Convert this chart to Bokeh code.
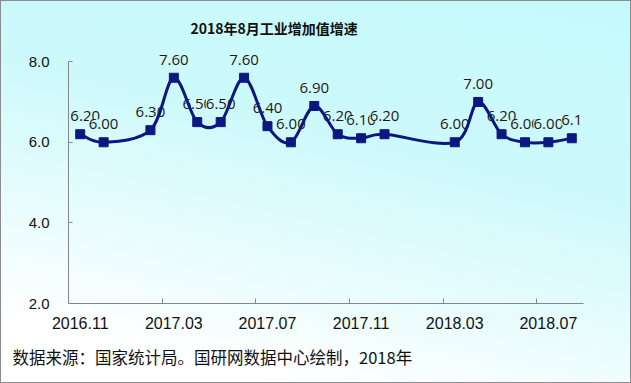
from bokeh.plotting import figure
from bokeh.models import (ColumnDataSource, LabelSet, Title, FixedTicker, Range1d,
                          NumeralTickFormatter)
from bokeh.core.properties import value
from bokeh.embed import file_html
from bokeh.resources import INLINE

# ---------------- data ----------------
months = ["2016.11", "2016.12", "2017.01", "2017.02", "2017.03", "2017.04", "2017.05",
          "2017.06", "2017.07", "2017.08", "2017.09", "2017.10", "2017.11", "2017.12",
          "2018.01", "2018.02", "2018.03", "2018.04", "2018.05", "2018.06", "2018.07",
          "2018.08"]
growth = [6.20, 6.00, None, 6.30, 7.60, 6.50, 6.50, 7.60, 6.40, 6.00, 6.90, 6.20,
          6.10, 6.20, None, None, 6.00, 7.00, 6.20, 6.00, 6.00, 6.10]
point_labels = ["6.20", "6.00", "", "6.30", "7.60", "6.50", "6.50", "7.60", "6.40", "6.00",
                "6.90", "6.20", "6.10", "6.20", "", "", "6.00", "7.00", "6.20", "6.00",
                "6.00", "6.1"]
tick_months = ["2016.11", "2017.03", "2017.07", "2017.11", "2018.03", "2018.07"]
y_ticks = [2, 4, 6, 8]

title_text = "2018年8月工业增加值增速"
source_text = "数据来源：国家统计局。国研网数据中心绘制，2018年"

LINE = "#0c1880"
AXIS = "#868686"

# ---------------- derived ----------------
idx = [i for i, v in enumerate(growth) if v is not None]
xs = idx
ys = [growth[i] for i in idx]
labs = [point_labels[i] for i in idx]
# keep the first label inside the plot frame (it would otherwise be clipped)
lab_dx = [5 if k == 0 else 0 for k in range(len(xs))]

# Excel-like smoothed line: cubic Bezier segments (Catmull-Rom control points)
bx0, by0, bx1, by1, cx0, cy0, cx1, cy1 = [], [], [], [], [], [], [], []
n = len(xs)
for k in range(n - 1):
    p0 = (xs[k - 1], ys[k - 1]) if k > 0 else (xs[k], ys[k])
    p1 = (xs[k], ys[k])
    p2 = (xs[k + 1], ys[k + 1])
    p3 = (xs[k + 2], ys[k + 2]) if k + 2 < n else (xs[k + 1], ys[k + 1])
    bx0.append(p1[0]); by0.append(p1[1])
    bx1.append(p2[0]); by1.append(p2[1])
    cx0.append(p1[0] + (p2[0] - p0[0]) / 6.0)
    cy0.append(p1[1] + (p2[1] - p0[1]) / 6.0)
    cx1.append(p2[0] - (p3[0] - p1[0]) / 6.0)
    cy1.append(p2[1] - (p3[1] - p1[1]) / 6.0)

# ---------------- layout ----------------
W, H = 631, 383
AX_LEFT, AX_RIGHT = 68, 583
ncat = len(months)

p = figure(width=W, height=H, output_backend="svg", toolbar_location=None,
           title=None, x_range=Range1d(-0.5, ncat - 0.5),
           y_range=Range1d(2, 8.5),
           min_border_left=AX_LEFT, min_border_right=W - AX_RIGHT,
           min_border_top=41, min_border_bottom=80)
p.border_fill_alpha = 0
p.background_fill_alpha = 0
p.outline_line_color = None
p.styles = {
    "background": "linear-gradient(193deg, #c4fafc 0%, #cdf9fb 38%, #ffffff 88%)",
    "outline": "1px solid #8c8c8c",
    "outline-offset": "-1px",
}
p.xgrid.visible = False
p.ygrid.visible = False

# y axis
p.yaxis.ticker = FixedTicker(ticks=y_ticks)
p.yaxis.bounds = (min(y_ticks), max(y_ticks))
p.yaxis.formatter = NumeralTickFormatter(format="0.0")
p.yaxis.axis_line_color = AXIS
p.yaxis.major_tick_line_color = AXIS
p.yaxis.major_tick_in = 4
p.yaxis.major_tick_out = 0
p.yaxis.minor_tick_line_color = None
p.yaxis.major_label_text_font = "Liberation Sans"
p.yaxis.major_label_text_font_size = "15px"
p.yaxis.major_label_text_color = "#111111"
p.yaxis.major_label_standoff = 19

# x axis
tick_pos = [months.index(m) for m in tick_months]
minor_pos = [t - 0.5 for t in tick_pos[1:]]
p.xaxis.ticker = FixedTicker(ticks=tick_pos, minor_ticks=minor_pos)
p.xaxis.major_label_overrides = {t: m for t, m in zip(tick_pos, tick_months)}
p.xaxis.axis_line_color = AXIS
p.xaxis.major_tick_line_color = None
p.xaxis.major_tick_in = 0
p.xaxis.major_tick_out = 0
p.xaxis.minor_tick_line_color = AXIS
p.xaxis.minor_tick_in = 5
p.xaxis.minor_tick_out = 0
p.xaxis.major_label_text_font = "Liberation Sans"
p.xaxis.major_label_text_font_size = "16px"
p.xaxis.major_label_text_color = "#111111"
p.xaxis.major_label_standoff = 13

# data labels (beneath the line)
lab_src = ColumnDataSource(dict(x=xs, y=ys, text=labs, dx=lab_dx))
labels = LabelSet(x="x", y="y", text="text", source=lab_src, level="underlay",
                  text_align="center", text_baseline="bottom", y_offset=13,
                  x_offset="dx",
                  text_font=value("Open Sans"), text_font_size="15px",
                  text_color="#1a1a1a", background_fill_color="#d0f9fb")
p.add_layout(labels)

# smoothed line + markers
p.bezier(x0=bx0, y0=by0, x1=bx1, y1=by1, cx0=cx0, cy0=cy0, cx1=cx1, cy1=cy1,
         line_color=LINE, line_width=3)
p.scatter(xs, ys, marker="square", size=9, fill_color=LINE, line_color=LINE)

# title and source note
p.add_layout(Title(text=title_text, align="left", offset=190 - AX_LEFT, standoff=7,
                   text_font="Noto Sans CJK SC", text_font_style="bold",
                   text_font_size="14px", text_color="#111111"), "above")
p.add_layout(Title(text=source_text, align="left", offset=12 - AX_LEFT, standoff=22,
                   text_font="Noto Sans CJK SC", text_font_style="normal",
                   text_font_size="16.5px", text_color="#111111"), "below")

open("out.html", "w").write(file_html(p, INLINE))
